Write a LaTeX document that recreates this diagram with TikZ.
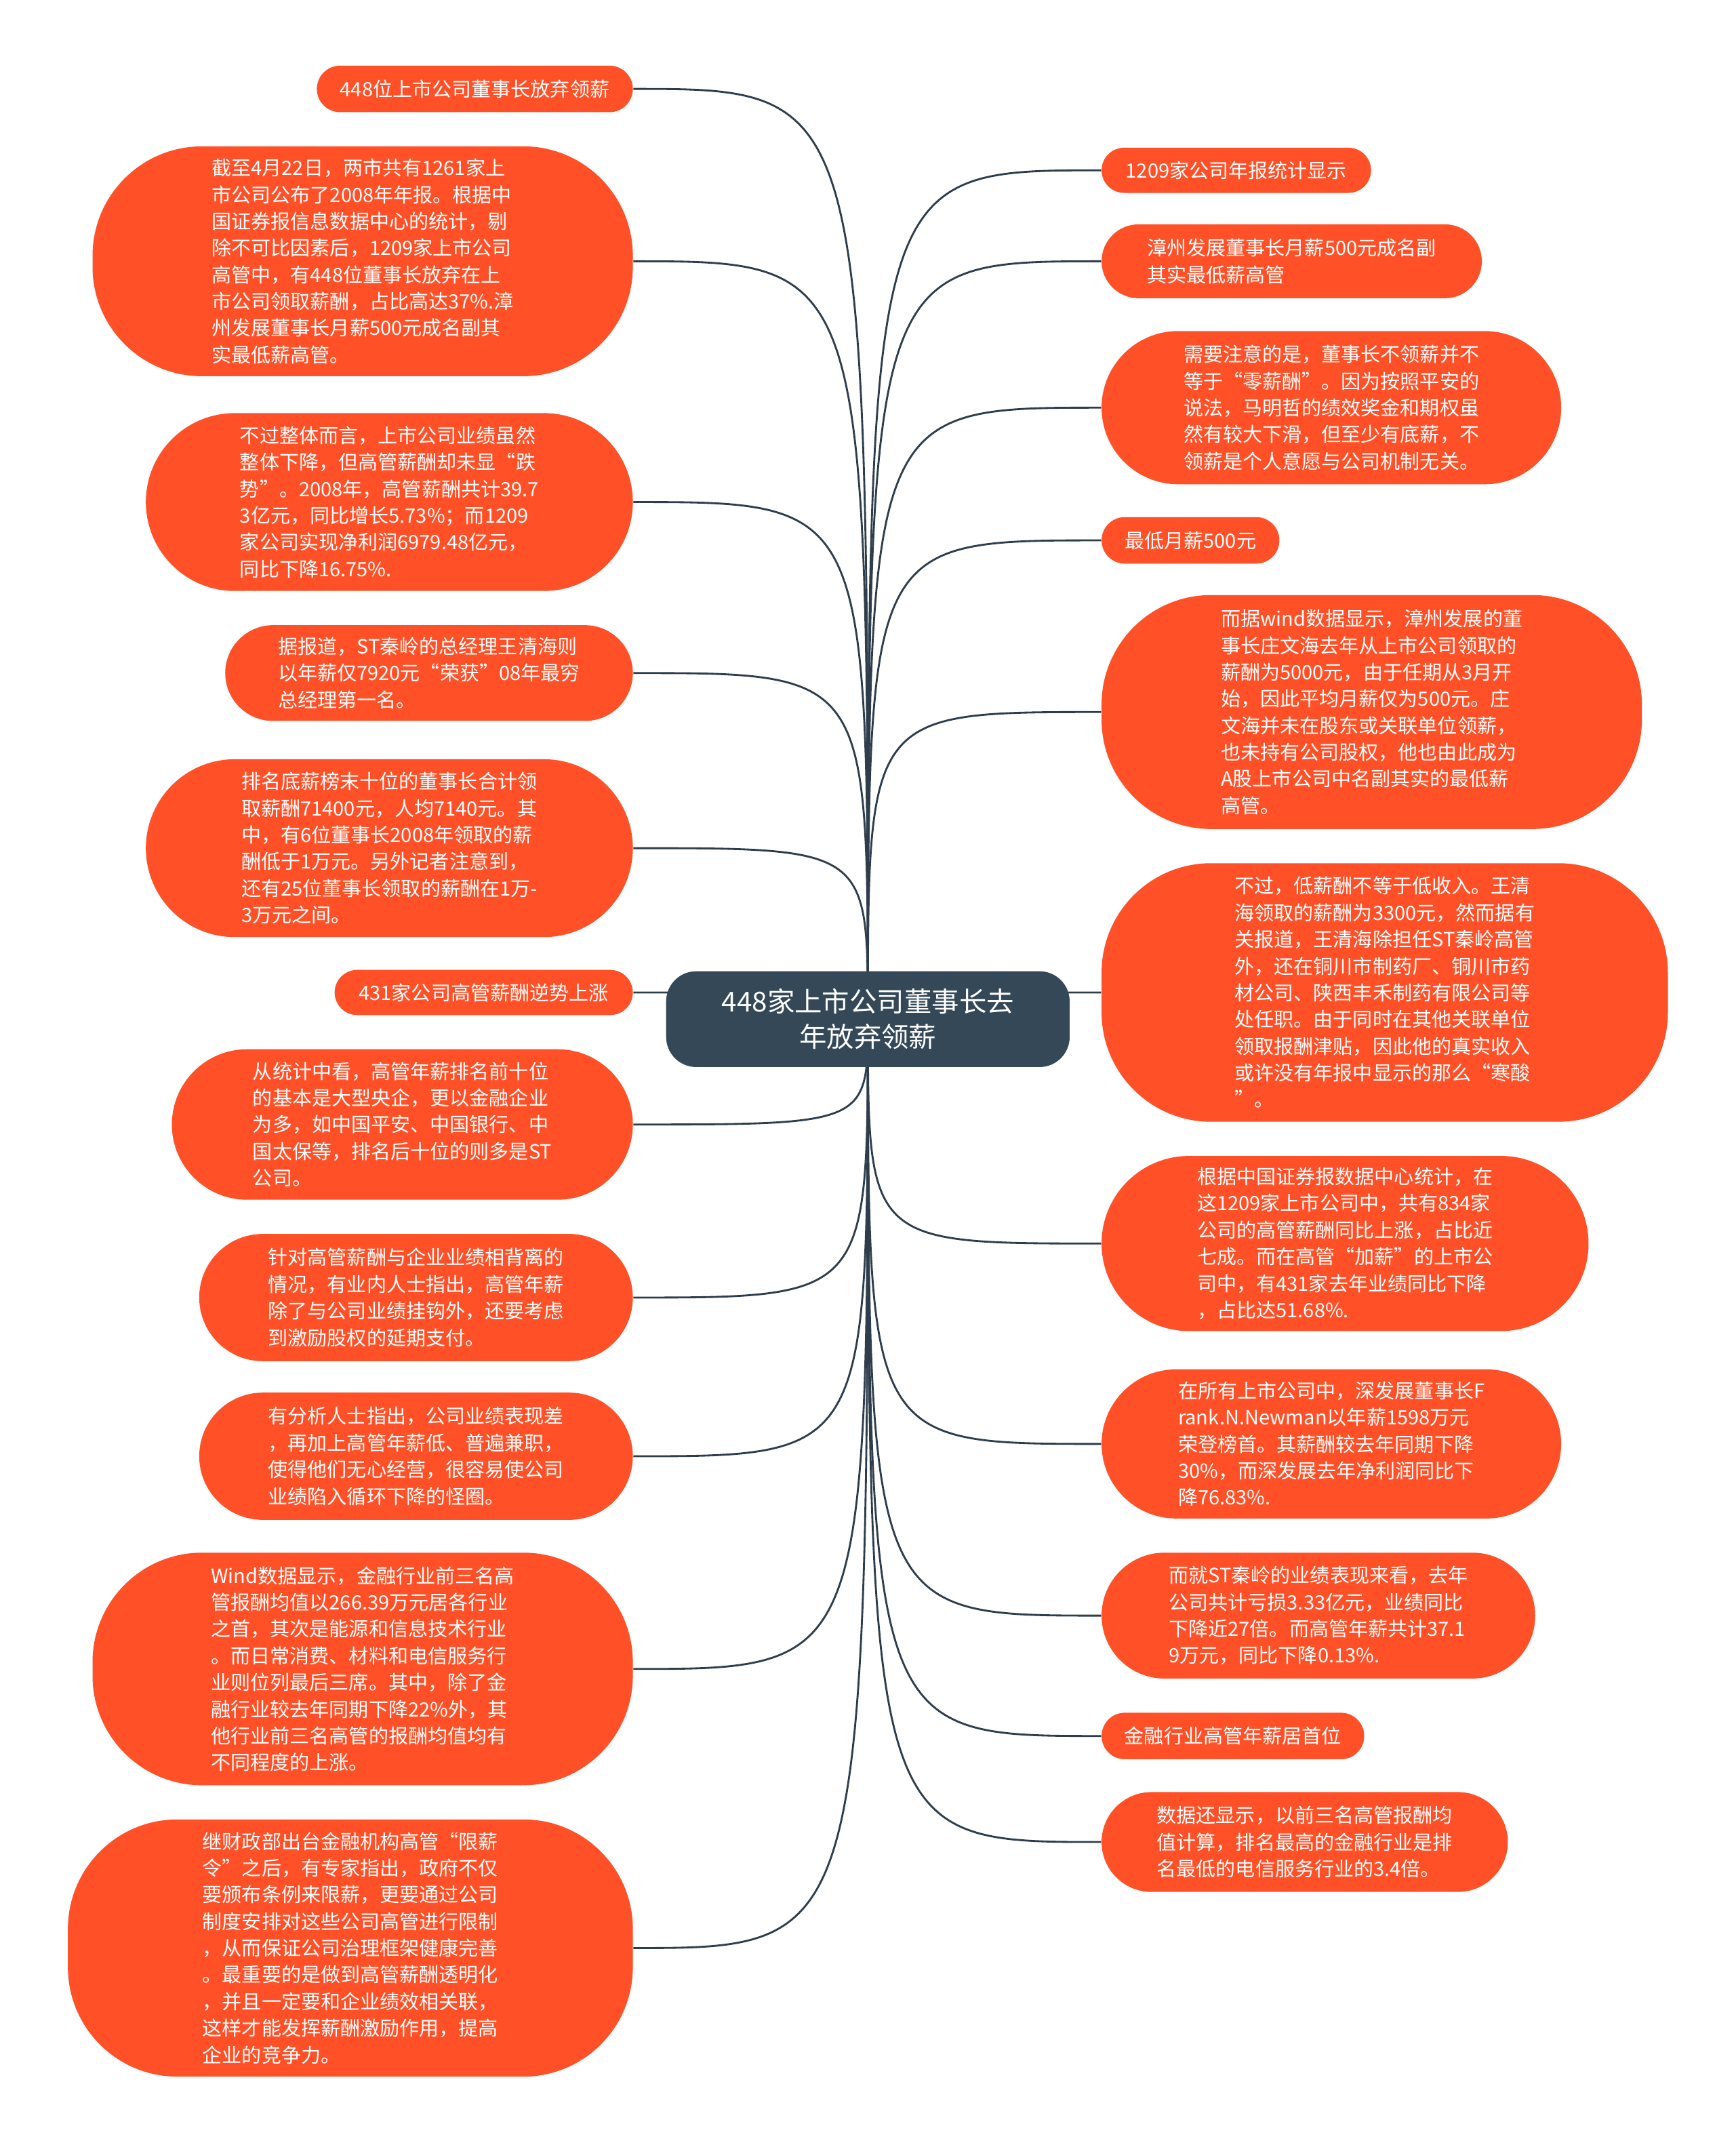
\documentclass[tikz,border=0pt]{standalone}
\usepackage{fontspec}
\setmainfont{Noto Sans CJK SC}
\usetikzlibrary{backgrounds}
\definecolor{maporange}{HTML}{FF5027}
\definecolor{mapslate}{HTML}{344858}
\definecolor{mapline}{HTML}{2E3D4B}
\newcommand\leaffont{\fontsize{8.2}{11.1}\selectfont}
\newcommand\hubfont{\fontsize{11.4}{14.6}\selectfont}
\tikzset{
    leaf/.style 2 args={fill=maporange, text=white, font=\leaffont, align=left, inner sep=0pt,
        minimum width=#1*0.2mm, minimum height=#2*0.2mm, rounded corners={min(#2/2,80)*0.2mm}},
    hub/.style={fill=mapslate, text=white, font=\hubfont, align=center, inner sep=0pt,
        minimum width=295*0.2mm, minimum height=70*0.2mm, rounded corners=22*0.2mm},
    twig/.style={draw=mapline, line width=0.8pt}
}

\begin{document}
\begin{tikzpicture}[x=0.2mm, y=-0.2mm]
    \useasboundingbox (0,0) rectangle (1269,1568);
    \node[hub] (root) at (634.5,745) {448家上市公司董事长去\\年放弃领薪};

    \node[leaf={231}{34}, anchor=east] (w1) at (463,65) {448位上市公司董事长放弃领薪};
    \node[leaf={395}{168}, anchor=east] (w2) at (463,191) {截至4月22日，两市共有1261家上\\市公司公布了2008年年报。根据中\\国证券报信息数据中心的统计，剔\\除不可比因素后，1209家上市公司\\高管中，有448位董事长放弃在上\\市公司领取薪酬，占比高达37\%.漳\\州发展董事长月薪500元成名副其\\实最低薪高管。};
    \node[leaf={356}{130}, anchor=east] (w3) at (463,367) {不过整体而言，上市公司业绩虽然\\整体下降，但高管薪酬却未显“跌\\势”。2008年，高管薪酬共计39.7\\3亿元，同比增长5.73\%；而1209\\家公司实现净利润6979.48亿元，\\同比下降16.75\%.};
    \node[leaf={298}{70}, anchor=east] (w4) at (463,492) {据报道，ST秦岭的总经理王清海则\\以年薪仅7920元“荣获”08年最穷\\总经理第一名。};
    \node[leaf={356}{130}, anchor=east] (w5) at (463,620) {排名底薪榜末十位的董事长合计领\\取薪酬71400元，人均7140元。其\\中，有6位董事长2008年领取的薪\\酬低于1万元。另外记者注意到，\\还有25位董事长领取的薪酬在1万-\\3万元之间。};
    \node[leaf={218}{33}, anchor=east] (w6) at (463,725.5) {431家公司高管薪酬逆势上涨};
    \node[leaf={337}{110}, anchor=east] (w7) at (463,822) {从统计中看，高管年薪排名前十位\\的基本是大型央企，更以金融企业\\为多，如中国平安、中国银行、中\\国太保等，排名后十位的则多是ST\\公司。};
    \node[leaf={317}{93}, anchor=east] (w8) at (463,948.5) {针对高管薪酬与企业业绩相背离的\\情况，有业内人士指出，高管年薪\\除了与公司业绩挂钩外，还要考虑\\到激励股权的延期支付。};
    \node[leaf={317}{93}, anchor=east] (w9) at (463,1064.5) {有分析人士指出，公司业绩表现差\\，再加上高管年薪低、普遍兼职，\\使得他们无心经营，很容易使公司\\业绩陷入循环下降的怪圈。};
    \node[leaf={395}{170}, anchor=east] (w10) at (463,1220) {Wind数据显示，金融行业前三名高\\管报酬均值以266.39万元居各行业\\之首，其次是能源和信息技术行业\\。而日常消费、材料和电信服务行\\业则位列最后三席。其中，除了金\\融行业较去年同期下降22\%外，其\\他行业前三名高管的报酬均值均有\\不同程度的上涨。};
    \node[leaf={413}{188}, anchor=east] (w11) at (463,1424) {继财政部出台金融机构高管“限薪\\令”之后，有专家指出，政府不仅\\要颁布条例来限薪，更要通过公司\\制度安排对这些公司高管进行限制\\，从而保证公司治理框架健康完善\\。最重要的是做到高管薪酬透明化\\，并且一定要和企业绩效相关联，\\这样才能发挥薪酬激励作用，提高\\企业的竞争力。};

    \node[leaf={197}{33}, anchor=west] (e1) at (805,124.5) {1209家公司年报统计显示};
    \node[leaf={278}{54}, anchor=west] (e2) at (805,191) {漳州发展董事长月薪500元成名副\\其实最低薪高管};
    \node[leaf={336}{112}, anchor=west] (e3) at (805,298) {需要注意的是，董事长不领薪并不\\等于“零薪酬”。因为按照平安的\\说法，马明哲的绩效奖金和期权虽\\然有较大下滑，但至少有底薪，不\\领薪是个人意愿与公司机制无关。};
    \node[leaf={130}{34}, anchor=west] (e4) at (805,395) {最低月薪500元};
    \node[leaf={395}{171}, anchor=west] (e5) at (805,520.5) {而据wind数据显示，漳州发展的董\\事长庄文海去年从上市公司领取的\\薪酬为5000元，由于任期从3月开\\始，因此平均月薪仅为500元。庄\\文海并未在股东或关联单位领薪，\\也未持有公司股权，他也由此成为\\A股上市公司中名副其实的最低薪\\高管。};
    \node[leaf={414}{189}, anchor=west] (e6) at (805,725.5) {不过，低薪酬不等于低收入。王清\\海领取的薪酬为3300元，然而据有\\关报道，王清海除担任ST秦岭高管\\外，还在铜川市制药厂、铜川市药\\材公司、陕西丰禾制药有限公司等\\处任职。由于同时在其他关联单位\\领取报酬津贴，因此他的真实收入\\或许没有年报中显示的那么“寒酸\\”。};
    \node[leaf={356}{128}, anchor=west] (e7) at (805,909) {根据中国证券报数据中心统计，在\\这1209家上市公司中，共有834家\\公司的高管薪酬同比上涨，占比近\\七成。而在高管“加薪”的上市公\\司中，有431家去年业绩同比下降\\，占比达51.68\%.};
    \node[leaf={336}{109}, anchor=west] (e8) at (805,1055.5) {在所有上市公司中，深发展董事长F\\rank.N.Newman以年薪1598万元\\荣登榜首。其薪酬较去年同期下降\\30\%，而深发展去年净利润同比下\\降76.83\%.};
    \node[leaf={317}{92}, anchor=west] (e9) at (805,1181) {而就ST秦岭的业绩表现来看，去年\\公司共计亏损3.33亿元，业绩同比\\下降近27倍。而高管年薪共计37.1\\9万元，同比下降0.13\%.};
    \node[leaf={192}{34}, anchor=west] (e10) at (805,1269) {金融行业高管年薪居首位};
    \node[leaf={297}{73}, anchor=west] (e11) at (805,1346.5) {数据还显示，以前三名高管报酬均\\值计算，排名最高的金融行业是排\\名最低的电信服务行业的3.4倍。};

    \begin{scope}[on background layer]
        \fill[white] (0,0) rectangle (1269,1568);
        \foreach \i in {1,...,11} {
            \draw[twig] (root.center) .. controls (root.center |- w\i.east) .. (w\i.east);
            \draw[twig] (root.center) .. controls (root.center |- e\i.west) .. (e\i.west);
        }
    \end{scope}
\end{tikzpicture}
\end{document}
